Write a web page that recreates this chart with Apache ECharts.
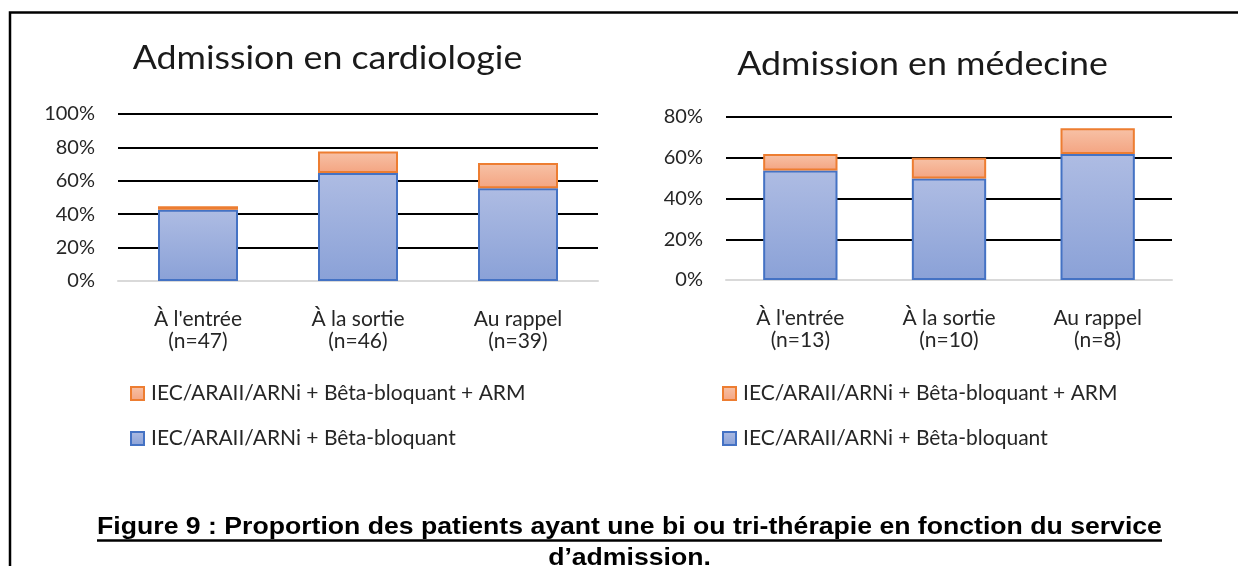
<!DOCTYPE html>
<html>
<head>
<meta charset="UTF-8"/>
<title>Figure 9</title>
<script src="https://cdn.jsdelivr.net/npm/echarts@6/dist/echarts.min.js"></script>
<style>
  html, body { margin: 0; padding: 0; background: #fff; }
  #chart { width: 1238px; height: 566px; }
</style>
</head>
<body>
<div id="chart"></div>
<script type="text/javascript">
    // catégories (axe x)
    var cardioCats = ["À l'entrée\n(n=47)", "À la sortie\n(n=46)", "Au rappel\n(n=39)"];
    var medCats = ["À l'entrée\n(n=13)", "À la sortie\n(n=10)", "Au rappel\n(n=8)"];
    // valeurs en %
    var cardioBi = [42.6, 64.6, 55.6];
    var cardioTri = [2.1, 13.0, 15.0];
    var medBi = [53.8, 49.8, 61.8];
    var medTri = [8.0, 10.2, 12.7];
    var nameBi = 'IEC/ARAII/ARNi + Bêta-bloquant';
    var nameTri = 'IEC/ARAII/ARNi + Bêta-bloquant + ARM';
    var titleCardio = 'Admission en cardiologie';
    var titleMed = 'Admission en médecine';
    var caption1 = 'Figure 9 : Proportion des patients ayant une bi ou tri-thérapie en fonction du service';
    var caption2 = 'd’admission.';

    var font = 'Lato';
    var blueStyle = {
        color: new echarts.graphic.LinearGradient(0, 0, 0, 1, [
            {offset: 0, color: '#aebce3'}, {offset: 1, color: '#8aa1d7'}
        ]),
        borderColor: '#4472c4',
        borderWidth: 2
    };
    var orangeStyle = {
        color: new echarts.graphic.LinearGradient(0, 0, 0, 1, [
            {offset: 0, color: '#f7c2a7'}, {offset: 1, color: '#f4a481'}
        ]),
        borderColor: '#ed7d31',
        borderWidth: 2
    };

    var yAxisBase = function (idx, max) {
        return {
            gridIndex: idx, type: 'value', min: 0, max: max, interval: 20,
            axisLine: {show: false}, axisTick: {show: false},
            axisLabel: {formatter: '{value}%', fontFamily: font, fontSize: 20, color: '#262626', margin: 23},
            splitLine: {lineStyle: {color: '#000', width: 2}}
        };
    };
    var xAxisBase = function (idx, data) {
        return {
            gridIndex: idx, type: 'category', data: data,
            axisLine: {lineStyle: {color: '#d9d9d9', width: 2}}, axisTick: {show: false},
            axisLabel: {fontFamily: font, fontSize: 21, lineHeight: 22, color: '#262626', margin: 27}
        };
    };
    var legendBase = function (x) {
        return {
            orient: 'vertical', left: x, top: 378, itemWidth: 13, itemHeight: 13, itemGap: 24,
            icon: 'rect',
            textStyle: {fontFamily: font, fontSize: 21, lineHeight: 21, color: '#262626', padding: [0, 0, 0, 2]},
            data: [nameTri, nameBi]
        };
    };
    var titleText = function (txt, x, y) {
        return {type: 'text', x: x, y: y, scaleX: 1.118, silent: true,
            style: {text: txt, align: 'center', verticalAlign: 'middle',
                font: '32px Lato, sans-serif', fill: '#1a1a1a'}};
    };
    var captionText = function (txt, y) {
        return {type: 'text', x: 629.5, y: y, scaleX: 1.109, silent: true,
            style: {text: txt, align: 'center', verticalAlign: 'middle',
                font: 'bold 24px "Liberation Sans", Arial, sans-serif', fill: '#000'}};
    };

    const chart = echarts.init(document.getElementById('chart'));
    chart.setOption({
        animation: false,
        legend: [legendBase(125), legendBase(717)],
        grid: [
            {left: 118, right: 640, top: 114, bottom: 285},
            {left: 726, right: 66, top: 117, bottom: 286}
        ],
        xAxis: [xAxisBase(0, cardioCats), xAxisBase(1, medCats)],
        yAxis: [yAxisBase(0, 100), yAxisBase(1, 80)],
        series: [
            {name: nameBi, type: 'bar', stack: 'c', xAxisIndex: 0, yAxisIndex: 0, barWidth: '50%', itemStyle: blueStyle, data: cardioBi},
            {name: nameTri, type: 'bar', stack: 'c', xAxisIndex: 0, yAxisIndex: 0, barWidth: '50%', itemStyle: orangeStyle, data: cardioTri},
            {name: nameBi, type: 'bar', stack: 'm', xAxisIndex: 1, yAxisIndex: 1, barWidth: '50%', itemStyle: blueStyle, data: medBi},
            {name: nameTri, type: 'bar', stack: 'm', xAxisIndex: 1, yAxisIndex: 1, barWidth: '50%', itemStyle: orangeStyle, data: medTri}
        ],
        graphic: [
            {type: 'rect', shape: {x: 10, y: 12.5, width: 1400, height: 700}, style: {fill: 'none', stroke: '#000', lineWidth: 2.5}, silent: true},
            titleText(titleCardio, 327.5, 58.5),
            titleText(titleMed, 922.5, 64.5),
            captionText(caption1, 527.5),
            {type: 'line', shape: {x1: 97, y1: 540.5, x2: 1162, y2: 540.5}, style: {stroke: '#000', lineWidth: 2.5}, silent: true},
            captionText(caption2, 558.5)
        ]
    });
</script>
</body>
</html>
